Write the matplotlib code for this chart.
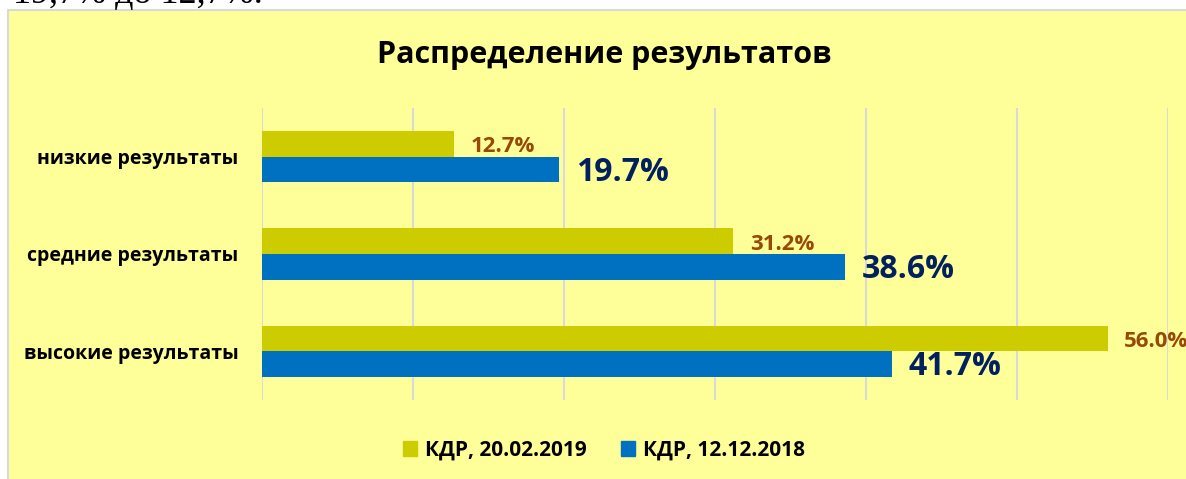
import matplotlib
matplotlib.use("Agg")
import matplotlib.pyplot as plt
from matplotlib.patches import Rectangle, Patch

plt.rcParams['font.family'] = ['Open Sans', 'DejaVu Sans']

# data
categories = ['низкие результаты', 'средние результаты', 'высокие результаты']
series_names = ['КДР, 20.02.2019', 'КДР, 12.12.2018']
feb_2019 = [12.7, 31.2, 56.0]
dec_2018 = [19.7, 38.6, 41.7]

col_yellow = '#CCCC00'
col_blue = '#0070C0'
col_brown = '#984807'
col_navy = '#002060'
panel_bg = '#FFFF99'

W, H = 1186, 479
fig = plt.figure(figsize=(W / 100, H / 100), dpi=100)
fig.patch.set_facecolor('white')

# chart panel (yellow box with grey border)
panel = Rectangle((8 / W, -0.05), 1.1, 1 - 10 / H + 0.05, transform=fig.transFigure,
                  facecolor=panel_bg, edgecolor='#D9D9D9', linewidth=1.5, zorder=-5)
fig.patches.append(panel)

# cut-off text line from the document above the chart
fig.text(13 / W, 1 - 2.5 / H, '19,7% до 12,7%.', family='Liberation Serif', fontsize=26,
         color='black', va='baseline', ha='left')

ax = fig.add_axes([262 / W, 79 / H, 906 / W, 292 / H])
ax.set_facecolor('none')
ax.set_zorder(2)

y = range(len(categories))
h = 0.262
ax.barh([i - h / 2 for i in y], feb_2019, height=h, color=col_yellow, zorder=3)
ax.barh([i + h / 2 for i in y], dec_2018, height=h, color=col_blue, zorder=3)

for i in y:
    ax.annotate(f'{feb_2019[i]:.1f}%', (feb_2019[i], i - h / 2), xytext=(12, -2),
                textcoords='offset points', va='center', ha='left',
                fontsize=16, fontweight='bold', color=col_brown, annotation_clip=False)
    ax.annotate(f'{dec_2018[i]:.1f}%', (dec_2018[i], i + h / 2), xytext=(12, -2),
                textcoords='offset points', va='center', ha='left',
                fontsize=23, fontweight='bold', color=col_navy, annotation_clip=False)

ax.set_xlim(0, 60)
ax.set_ylim(2.5, -0.5)
ax.set_xticks(range(0, 61, 10))
ax.set_xticklabels([])
ax.set_yticks(list(y))
ax.set_yticklabels(categories, fontsize=14, fontweight='bold')
ax.tick_params(length=0, pad=17)
ax.xaxis.grid(True, color='#D9D9D9', linewidth=1.5, zorder=0)
for s in ax.spines.values():
    s.set_visible(False)

fig.text(604 / W, 1 - 55 / H, 'Распределение результатов', ha='center', va='center',
         fontsize=22, fontweight='bold', color='black')

handles = [Patch(color=col_yellow), Patch(color=col_blue)]
fig.legend(handles, series_names, loc='center', bbox_to_anchor=(604 / W, 1 - 450 / H),
           ncol=2, frameon=False, prop={'size': 15, 'weight': 'bold'},
           handlelength=0.7, handleheight=0.7, handletextpad=0.4, columnspacing=1.6)

fig.savefig('out.png', dpi=100)
